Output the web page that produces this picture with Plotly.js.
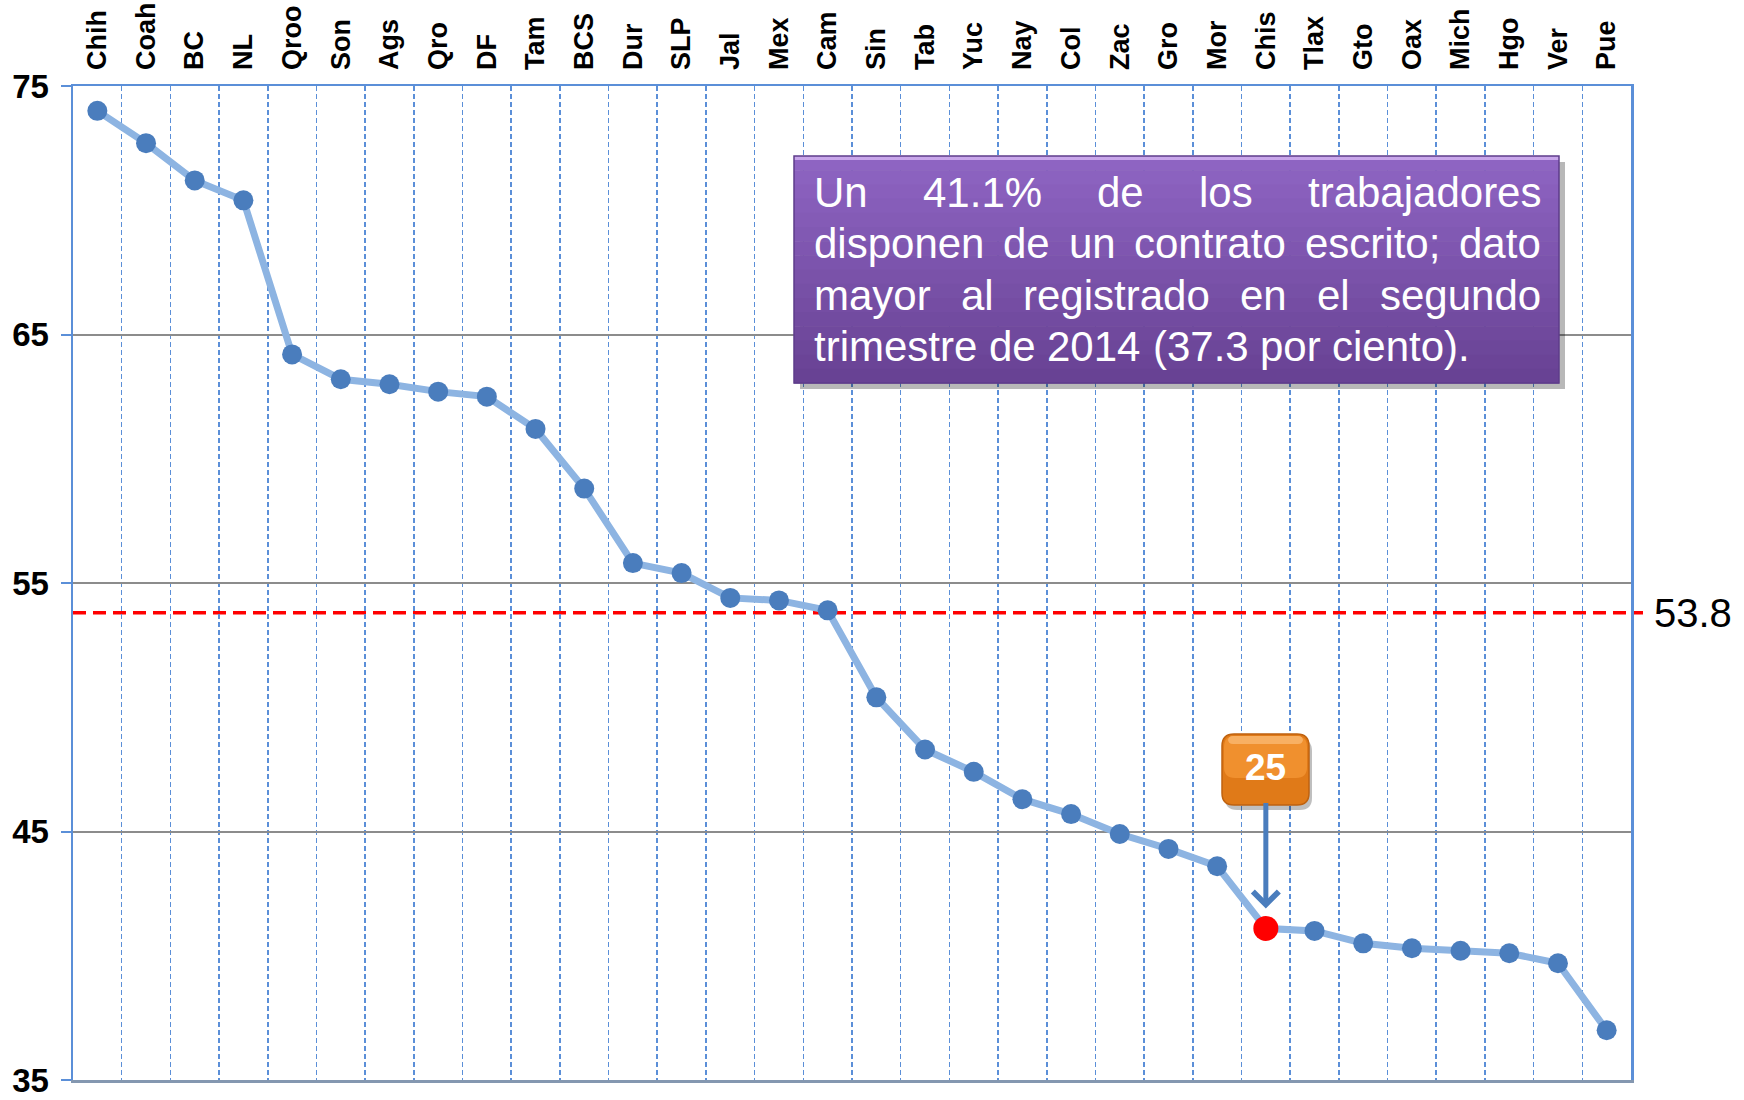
<!DOCTYPE html>
<html><head><meta charset="utf-8">
<script src="https://cdn.plot.ly/plotly-3.0.1.min.js"></script>
<style>html,body{margin:0;padding:0;background:#fff}#chart{width:1744px;height:1100px}</style>
</head><body><div id="chart"></div>
<script>
// ---- data ----
const categories = ['Chih','Coah','BC','NL','Qroo','Son','Ags','Qro','DF','Tam','BCS','Dur','SLP','Jal','Mex','Cam','Sin','Tab','Yuc','Nay','Col','Zac','Gro','Mor','Chis','Tlax','Gto','Oax','Mich','Hgo','Ver','Pue'];
const values = [74.0,72.7,71.2,70.4,64.2,63.2,63.0,62.7,62.5,61.2,58.8,55.8,55.4,54.4,54.3,53.9,50.4,48.3,47.4,46.3,45.7,44.9,44.3,43.6,41.1,41.0,40.5,40.3,40.2,40.1,39.7,37.0];
const nationalAvg = 53.8;
const highlightState = 'Chis';
const highlightRank = '25';
const yTickVals = [35,45,55,65,75];
const noteLines = ['Un 41.1% de los trabajadores','disponen de un contrato escrito; dato','mayor al registrado en el segundo','trimestre de 2014 (37.3 por ciento).'];

// ---- layout geometry ----
const W = 1744, H = 1100;
const M = {l:73, r:113, t:86, b:20};
const pw = W - M.l - M.r, ph = H - M.t - M.b;
const px2x = p => (p - M.l) / pw;
const px2y = p => (H - M.b - p) / ph;
const FONT = 'Liberation Sans, Arial, sans-serif';

const blue = '#5b8fd8';
const markerColors = categories.map(c => c === highlightState ? '#ff0000' : '#4a7dbd');
const markerSizes = categories.map(c => c === highlightState ? 25 : 20);

const traces = [
  {
    x: categories, y: values, type: 'scatter', mode: 'lines+markers',
    line: {color: '#8db4e2', width: 7},
    marker: {color: markerColors, size: markerSizes, opacity: 1, line: {width: 0}},
    hoverinfo: 'x+y', cliponaxis: false
  },
  {
    x: categories, y: values, xaxis: 'x2', type: 'scatter', mode: 'lines',
    line: {width: 1, color: 'rgba(0,0,0,0)'}, hoverinfo: 'skip', showlegend: false
  }
];

const shapes = [];
const annotations = [];

// national average reference line
shapes.push({type:'line', xref:'paper', yref:'y', x0:0, x1:px2x(1643), y0:nationalAvg, y1:nationalAvg,
  line:{color:'#ff0000', width:3.5, dash:'13px,7px'}, layer:'between'});
annotations.push({xref:'paper', yref:'y', x:px2x(1652), y:nationalAvg, xanchor:'left', yanchor:'middle',
  text:String(nationalAvg), showarrow:false, font:{family:FONT, size:40, color:'#000'}});

// purple note box
const bx0 = 794, bx1 = 1559, by0 = 156, by1 = 383;
shapes.push({type:'rect', xref:'paper', yref:'paper', x0:px2x(bx0+6), x1:px2x(bx1+6), y0:px2y(by0+6), y1:px2y(by1+6),
  fillcolor:'rgba(0,0,0,0.28)', line:{width:0}, layer:'above'});
const nb = 16;
const c0 = [142,100,194], c1 = [104,66,148];
for (let i = 0; i < nb; i++) {
  const t = i/(nb-1);
  const col = c0.map((v,k)=>Math.round(v + (c1[k]-v)*t));
  const ya = by0 + (by1-by0)*i/nb, yb = by0 + (by1-by0)*(i+1)/nb;
  shapes.push({type:'rect', xref:'paper', yref:'paper', x0:px2x(bx0), x1:px2x(bx1), y0:px2y(ya), y1:px2y(yb+0.5),
    fillcolor:`rgb(${col.join(',')})`, line:{width:0}, layer:'above'});
}
shapes.push({type:'rect', xref:'paper', yref:'paper', x0:px2x(bx0), x1:px2x(bx1), y0:px2y(by0), y1:px2y(by0+4),
  fillcolor:'#c8a6ea', line:{width:0}, layer:'above'});
shapes.push({type:'rect', xref:'paper', yref:'paper', x0:px2x(bx0), x1:px2x(bx1), y0:px2y(by0), y1:px2y(by1),
  fillcolor:'rgba(0,0,0,0)', line:{width:1.5, color:'#5e3d8a'}, layer:'above'});

// justified note text
const fs = 42;
const cv = document.createElement('canvas').getContext('2d');
cv.font = fs + 'px "Liberation Sans"';
const tx0 = 813, tx1 = 1540, ty0 = 192, lh = 51.5;
noteLines.forEach((line, i) => {
  const words = line.split(' ');
  const widths = words.map(w => cv.measureText(w).width);
  const total = widths.reduce((a,b)=>a+b,0);
  const last = i === noteLines.length - 1;
  const gap = last ? cv.measureText(' ').width : (tx1 - tx0 - total) / (words.length - 1);
  let x = tx0;
  words.forEach((w, j) => {
    annotations.push({xref:'paper', yref:'paper', x:px2x(x), y:px2y(ty0 + i*lh), xanchor:'left', yanchor:'middle',
      text:w, showarrow:false, borderpad:0, font:{family:FONT, size:fs, color:'#ffffff'}});
    x += widths[j] + gap;
  });
});

// rank callout (rounded orange box)
function roundPath(x0, y0, x1, y1, r) {
  const X = px2x, Y = px2y;
  return `M${X(x0+r)},${Y(y0)} L${X(x1-r)},${Y(y0)} Q${X(x1)},${Y(y0)} ${X(x1)},${Y(y0+r)} ` +
    `L${X(x1)},${Y(y1-r)} Q${X(x1)},${Y(y1)} ${X(x1-r)},${Y(y1)} L${X(x0+r)},${Y(y1)} ` +
    `Q${X(x0)},${Y(y1)} ${X(x0)},${Y(y1-r)} L${X(x0)},${Y(y0+r)} Q${X(x0)},${Y(y0)} ${X(x0+r)},${Y(y0)} Z`;
}
const ox0 = 1222, ox1 = 1309, oy0 = 734, oy1 = 805;
shapes.push({type:'path', xref:'paper', yref:'paper', path:roundPath(ox0+3, oy0+5, ox1+3, oy1+5, 12),
  fillcolor:'rgba(0,0,0,0.25)', line:{width:0}, layer:'above'});
shapes.push({type:'path', xref:'paper', yref:'paper', path:roundPath(ox0, oy0, ox1, oy1, 12),
  fillcolor:'#e07a18', line:{width:1.5, color:'#bf620f'}, layer:'above'});
shapes.push({type:'path', xref:'paper', yref:'paper', path:roundPath(ox0+2, oy0+2, ox1-2, oy0+44, 11),
  fillcolor:'#f0902e', line:{width:0}, layer:'above'});
shapes.push({type:'path', xref:'paper', yref:'paper', path:roundPath(ox0+6, oy0+2, ox1-6, oy0+10, 5),
  fillcolor:'#f8b063', line:{width:0}, layer:'above'});
const hi = categories.indexOf(highlightState);
annotations.push({x:highlightState, y:values[hi], xref:'x', yref:'y', text:'<b>'+highlightRank+'</b>',
  showarrow:true, ax:0, ay:-161, arrowhead:4, arrowsize:1, arrowwidth:5, arrowcolor:'#4a7dbd', standoff:20,
  bgcolor:'rgba(0,0,0,0)', borderwidth:0, borderpad:0, width:87, height:71,
  font:{family:FONT, size:37, color:'#ffffff'}});

const layout = {
  width: W, height: H, margin: M, paper_bgcolor:'#fff', plot_bgcolor:'#fff', showlegend:false,
  font:{family:FONT},
  xaxis: {
    type:'category', side:'top', range:[-0.5, categories.length-0.5], tickson:'boundaries',
    showgrid:true, gridcolor:blue, gridwidth:1.6, griddash:'5px,3px',
    showline:true, linecolor:blue, linewidth:2.5, ticks:'', tickangle:-90,
    tickfont:{family:FONT, size:27, weight:700, color:'#000'}, ticklabelstandoff:8, zeroline:false,
    ticklabeloverflow:'allow'
  },
  xaxis2: {
    type:'category', overlaying:'x', side:'bottom', range:[-0.5, categories.length-0.5],
    showgrid:false, showline:true, linecolor:'#8497b0', linewidth:3, ticks:'', showticklabels:false, zeroline:false
  },
  yaxis: {
    range:[35,75], tickvals:yTickVals, showgrid:true, gridcolor:'#8c8c8c', gridwidth:2,
    showline:true, linecolor:blue, linewidth:2.5, mirror:true, ticks:'outside', ticklen:10, tickcolor:blue, tickwidth:2,
    tickfont:{family:FONT, size:33, weight:700, color:'#000'}, ticklabelstandoff:5, zeroline:false,
    ticklabeloverflow:'allow'
  },
  shapes, annotations
};

Plotly.newPlot('chart', traces, layout, {displayModeBar:false, staticPlot:true});
</script>
</body></html>
